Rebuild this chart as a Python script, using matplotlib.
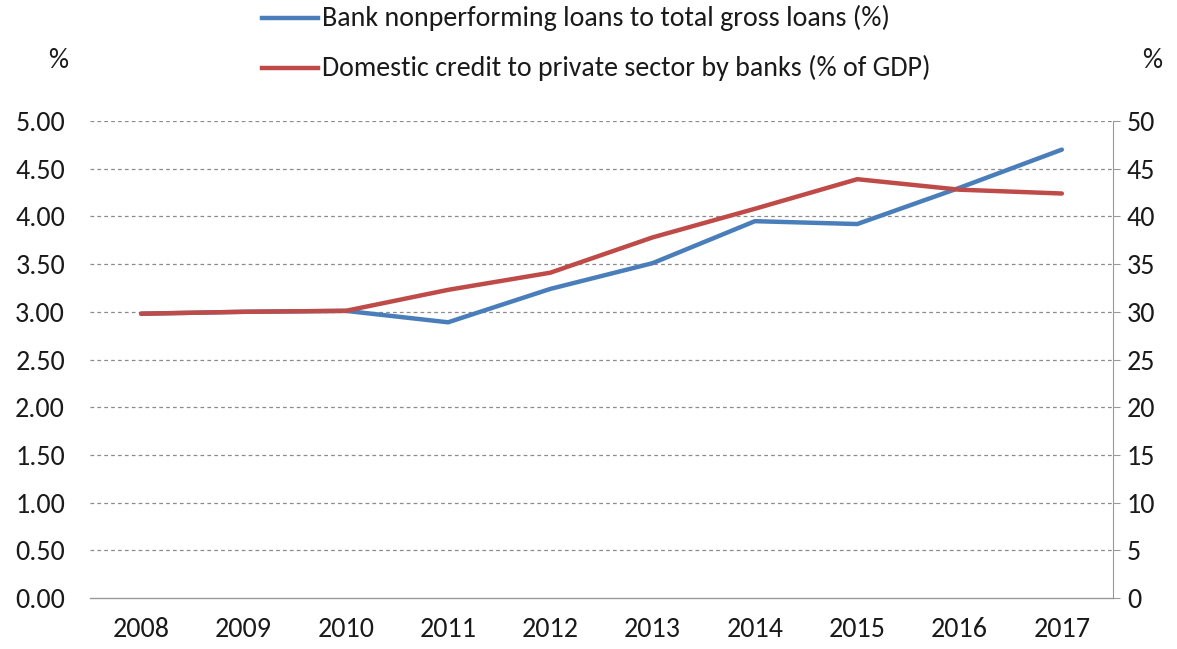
import matplotlib
matplotlib.use("Agg")
import matplotlib.pyplot as plt
from matplotlib import font_manager

years = ["2008", "2009", "2010", "2011", "2012", "2013", "2014", "2015", "2016", "2017"]
npl = [2.98, 3.00, 3.01, 2.89, 3.24, 3.51, 3.95, 3.92, 4.30, 4.70]
credit = [29.8, 30.0, 30.1, 32.3, 34.1, 37.8, 40.8, 43.9, 42.8, 42.4]
left_ticks = [0.0, 0.5, 1.0, 1.5, 2.0, 2.5, 3.0, 3.5, 4.0, 4.5, 5.0]
right_ticks = [0, 5, 10, 15, 20, 25, 30, 35, 40, 45, 50]
npl_label = "Bank nonperforming loans to total gross loans (%)"
credit_label = "Domestic credit to private sector by banks (% of GDP)"

names = {f.name for f in font_manager.fontManager.ttflist}
fam = "DejaVu Sans"
for cand in ["Carlito", "Liberation Sans Narrow", "Roboto Condensed", "Open Sans Condensed",
             "Encode Sans Condensed", "PT Sans Narrow", "Archivo Narrow", "Liberation Sans"]:
    if cand in names:
        fam = cand
        break
plt.rcParams["font.family"] = [fam, "DejaVu Sans"]

BLUE = "#4A7EBB"
RED = "#BE4B48"
GRID = "#8c8c8c"
TXT = "#1a1a1a"

fig = plt.figure(figsize=(11.77, 6.49), dpi=100)
renderer = fig.canvas.get_renderer()
probe = fig.text(0, 0, npl_label, fontsize=10)
w10 = probe.get_window_extent(renderer).width
probe.remove()
FS = 10 * 568 / w10

ax = fig.add_axes([90/1177, 1 - 598/649, (1113-90)/1177, (598-121)/649])
ax2 = ax.twinx()

x = list(range(len(years)))
ax.plot(x, npl, color=BLUE, lw=3.2, solid_capstyle="round", zorder=3)
ax2.plot(x, credit, color=RED, lw=3.2, solid_capstyle="round", zorder=3)

ax.set_xlim(-0.5, len(years) - 0.5)
ax.set_ylim(0, 5)
ax2.set_ylim(0, 50)
ax.set_yticks(left_ticks)
ax.set_yticklabels([f"{v:.2f}" for v in left_ticks])
ax2.set_yticks(right_ticks)
ax2.set_yticklabels([str(v) for v in right_ticks])
ax.set_xticks(x)
ax.set_xticklabels(years)

for v in left_ticks[1:]:
    ax.axhline(v, color=GRID, lw=0.9, ls=(0, (3, 2.5)), zorder=1)

for a in (ax, ax2):
    for s in ("top", "left", "right", "bottom"):
        a.spines[s].set_visible(False)
ax2.spines["right"].set_visible(True)
ax2.spines["right"].set_color("#999999")
ax2.spines["bottom"].set_visible(True)
ax2.spines["bottom"].set_color("#999999")
ax2.spines["bottom"].set_linewidth(1.0)

ax.tick_params(axis="y", length=0, pad=18, labelsize=FS, labelcolor=TXT)
ax.tick_params(axis="x", length=0, pad=14, labelsize=FS, labelcolor=TXT)
ax2.tick_params(axis="y", length=5, direction="out", color="#999999", pad=5,
                labelsize=FS, labelcolor=TXT)

fig.text(58/1177, 1 - 60/649, "%", fontsize=FS, color=TXT, ha="center", va="center")
fig.text(1152/1177, 1 - 60/649, "%", fontsize=FS, color=TXT, ha="center", va="center")

for yy, col, lab in ((18, BLUE, npl_label), (68, RED, credit_label)):
    fig.add_artist(plt.Line2D([262/1177, 318/1177], [1 - yy/649, 1 - yy/649],
                              color=col, lw=3.2, transform=fig.transFigure))
    fig.text(322/1177, 1 - yy/649, lab, fontsize=FS, color=TXT, ha="left", va="center")

fig.savefig("out.png", dpi=100)
